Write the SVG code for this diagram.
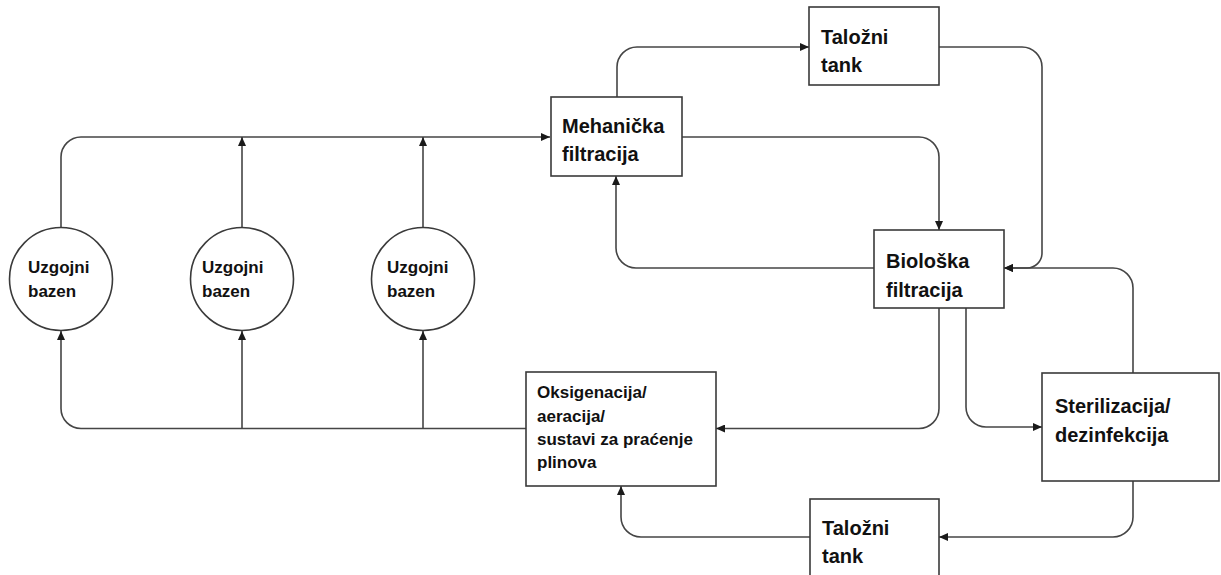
<svg xmlns="http://www.w3.org/2000/svg" width="1221" height="575" viewBox="0 0 1221 575">
<style>
  .box { fill: #ffffff; stroke: #3a3a3a; stroke-width: 1.6; }
  .conn { fill: none; stroke: #454545; stroke-width: 1.6; }
  .t { font-family: "Liberation Sans", Arial, sans-serif; font-weight: bold; fill: #111111; }
  .s { font-size: 17px; }
  .l { font-size: 20px; }
</style>
<defs>
  <marker id="arr" markerUnits="userSpaceOnUse" markerWidth="10" markerHeight="8" refX="9" refY="4" orient="auto">
    <path d="M0,0 L9,4 L0,8 z" fill="#1a1a1a"/>
  </marker>
</defs>
<rect width="1221" height="575" fill="#ffffff"/>
<g id="connectors">
  <path class="conn" d="M61,227 V157 A20,20 0 0 1 81,137 H550" marker-end="url(#arr)"/>
  <path class="conn" d="M242,227 V137" marker-end="url(#arr)"/>
  <path class="conn" d="M423,227 V137" marker-end="url(#arr)"/>
  <path class="conn" d="M526,428.5 H81 A20,20 0 0 1 61,408.5 V331" marker-end="url(#arr)"/>
  <path class="conn" d="M242,428.5 V331" marker-end="url(#arr)"/>
  <path class="conn" d="M423,428.5 V331" marker-end="url(#arr)"/>
  <path class="conn" d="M617,97 V67 A20,20 0 0 1 637,47 H809" marker-end="url(#arr)"/>
  <path class="conn" d="M682,137 H919 A20,20 0 0 1 939,157 V230" marker-end="url(#arr)"/>
  <path class="conn" d="M939,47 H1022 A20,20 0 0 1 1042,67 V253 A15,15 0 0 1 1027,268 H1004" marker-end="url(#arr)"/>
  <path class="conn" d="M1133,373 V288 A20,20 0 0 0 1113,268 H1004" marker-end="url(#arr)"/>
  <path class="conn" d="M874,268 H636 A20,20 0 0 1 616,248 V176" marker-end="url(#arr)"/>
  <path class="conn" d="M939,308 V408.5 A20,20 0 0 1 919,428.5 H716" marker-end="url(#arr)"/>
  <path class="conn" d="M966,308 V407 A20,20 0 0 0 986,427 H1042" marker-end="url(#arr)"/>
  <path class="conn" d="M1133,481 V517 A20,20 0 0 1 1113,537 H939" marker-end="url(#arr)"/>
  <path class="conn" d="M810,537 H641 A20,20 0 0 1 621,517 V486" marker-end="url(#arr)"/>
</g>
<g id="bazen1">
  <circle class="box" cx="61" cy="279" r="51.5"/>
  <text class="t s" x="28" y="273">Uzgojni</text>
  <text class="t s" x="28" y="297">bazen</text>
</g>
<g id="bazen2">
  <circle class="box" cx="242" cy="279" r="51.5"/>
  <text class="t s" x="202" y="273">Uzgojni</text>
  <text class="t s" x="202" y="297">bazen</text>
</g>
<g id="bazen3">
  <circle class="box" cx="423" cy="279" r="51.5"/>
  <text class="t s" x="387" y="273">Uzgojni</text>
  <text class="t s" x="387" y="297">bazen</text>
</g>
<g id="mehanicka">
  <rect class="box" x="551" y="97" width="131" height="79"/>
  <text class="t l" x="562" y="133">Mehanička</text>
  <text class="t l" x="562" y="161">filtracija</text>
</g>
<g id="talozni-gore">
  <rect class="box" x="809" y="7" width="130" height="78"/>
  <text class="t l" x="821" y="44">Taložni</text>
  <text class="t l" x="821" y="72">tank</text>
</g>
<g id="bioloska">
  <rect class="box" x="874" y="230" width="130" height="78"/>
  <text class="t l" x="886" y="268">Biološka</text>
  <text class="t l" x="886" y="297">filtracija</text>
</g>
<g id="oksigenacija">
  <rect class="box" x="526" y="372" width="190" height="114"/>
  <text class="t s" x="537" y="398">Oksigenacija/</text>
  <text class="t s" x="537" y="422">aeracija/</text>
  <text class="t s" x="537" y="445">sustavi za praćenje</text>
  <text class="t s" x="537" y="468">plinova</text>
</g>
<g id="sterilizacija">
  <rect class="box" x="1042" y="373" width="177" height="108"/>
  <text class="t l" x="1055" y="413">Sterilizacija/</text>
  <text class="t l" x="1055" y="442">dezinfekcija</text>
</g>
<g id="talozni-dolje">
  <rect class="box" x="810" y="499" width="129" height="78"/>
  <text class="t l" x="822" y="535">Taložni</text>
  <text class="t l" x="822" y="563">tank</text>
</g>
</svg>
